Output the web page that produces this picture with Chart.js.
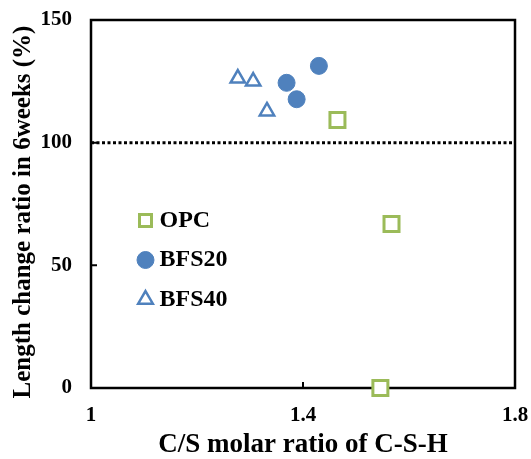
<!DOCTYPE html>
<html>
<head>
<meta charset="utf-8">
<script src="https://cdn.jsdelivr.net/npm/chart.js@4/dist/chart.umd.min.js"></script>
<style>
  html, body { margin: 0; padding: 0; background: #fff; }
  #wrap { width: 531px; height: 459px; }
</style>
</head>
<body>
<div id="wrap"><canvas id="chart"></canvas></div>
<script>
// values
const opcX = [1.465, 1.567, 1.546];
const opcY = [109.2, 66.8, 0];
const bfs20X = [1.369, 1.388, 1.430];
const bfs20Y = [124.4, 117.7, 131.3];
const bfs40X = [1.277, 1.306, 1.332];
const bfs40Y = [126.2, 125.0, 112.8];
const refX = [1, 1.8];
const refY = [100, 100];
const xTicks = [1, 1.4, 1.8];
const yTicks = [0, 50, 100, 150];

const pts = (xs, ys) => xs.map((v, i) => ({ x: v, y: ys[i] }));

const GREEN = '#9BBB59';
const BLUE = '#4F81BD';
const serif = 'Liberation Serif, Times New Roman, serif';

// box round the plot + short inward ticks
const frame = {
  id: 'frame',
  beforeDatasetsDraw(chart) {
    const { ctx, chartArea: a, scales: { x, y } } = chart;
    ctx.save();
    ctx.strokeStyle = '#000';
    ctx.lineWidth = 2.5;
    ctx.strokeRect(a.left, a.top, a.right - a.left, a.bottom - a.top);
    ctx.lineWidth = 2;
    ctx.beginPath();
    y.ticks.forEach(t => {
      const py = y.getPixelForValue(t.value);
      ctx.moveTo(a.left, py);
      ctx.lineTo(a.left + 6, py);
    });
    x.ticks.forEach(t => {
      const px = x.getPixelForValue(t.value);
      ctx.moveTo(px, a.bottom);
      ctx.lineTo(px, a.bottom - 6);
    });
    ctx.stroke();
    ctx.restore();
  }
};

// legend inside the plot, y title nudged down a bit
const placeBoxes = {
  id: 'placeBoxes',
  afterLayout(chart) {
    const lg = chart.legend;
    if (lg) {
      lg.left = 128;
      lg.top = 193;
      lg.right = lg.left + lg.width;
      lg.bottom = lg.top + lg.height;
    }
    const y = chart.scales.y;
    y.top += 8;
    y.bottom += 8;
  }
};

// fixed axis boxes, no extra overflow padding
const fixBox = size => s => {
  if (s.isHorizontal()) s.height = size; else s.width = size;
  s.paddingTop = s.paddingBottom = s.paddingLeft = s.paddingRight = 0;
};

new Chart(document.getElementById('chart'), {
  type: 'scatter',
  data: {
    datasets: [
      {
        label: 'OPC',
        data: pts(opcX, opcY),
        pointStyle: 'rect',
        pointRadius: 10.6,
        pointHoverRadius: 10.6,
        borderColor: GREEN,
        backgroundColor: '#fff',
        borderWidth: 3,
        clip: false
      },
      {
        label: 'BFS20',
        data: pts(bfs20X, bfs20Y),
        pointStyle: 'circle',
        pointRadius: 8.5,
        pointHoverRadius: 8.5,
        borderColor: BLUE,
        backgroundColor: BLUE,
        borderWidth: 1,
        clip: false
      },
      {
        label: 'BFS40',
        data: pts(bfs40X, bfs40Y),
        pointStyle: 'triangle',
        pointRadius: 8.3,
        pointHoverRadius: 8.3,
        borderColor: BLUE,
        backgroundColor: '#fff',
        borderWidth: 2.5,
        clip: false
      },
      {
        type: 'line',
        label: 'ref',
        data: pts(refX, refY),
        borderColor: '#000',
        borderWidth: 3,
        borderDash: [3, 2.5],
        pointRadius: 0,
        fill: false
      }
    ]
  },
  options: {
    responsive: true,
    maintainAspectRatio: false,
    animation: false,
    layout: { padding: { top: 20, right: 16, left: 0, bottom: 0 } },
    plugins: {
      tooltip: { enabled: false },
      legend: {
        position: 'chartArea',
        align: 'start',
        labels: {
          usePointStyle: true,
          boxWidth: 4,
          boxHeight: 12,
          padding: 15.5,
          color: '#000',
          font: { family: serif, size: 24, weight: 'bold' },
          filter: item => item.text !== 'ref'
        }
      }
    },
    scales: {
      x: {
        type: 'linear',
        min: 1,
        max: 1.8,
        afterBuildTicks: s => { s.ticks = xTicks.map(v => ({ value: v })); },
        afterFit: fixBox(71),
        grid: { display: false, drawTicks: false },
        border: { display: false },
        ticks: {
          padding: 15,
          color: '#000',
          font: { family: serif, size: 21, weight: 'bold' },
          callback: v => String(v)
        },
        title: {
          display: true,
          text: 'C/S molar ratio of C-S-H',
          color: '#000',
          padding: 0,
          font: { family: serif, size: 27, weight: 'bold', lineHeight: 1 }
        }
      },
      y: {
        min: 0,
        max: 150,
        afterBuildTicks: s => { s.ticks = yTicks.map(v => ({ value: v })); },
        afterFit: fixBox(91),
        grid: { display: false, drawTicks: false },
        border: { display: false },
        ticks: {
          padding: 19,
          color: '#000',
          font: { family: serif, size: 21, weight: 'bold' },
          callback: v => String(v)
        },
        title: {
          display: true,
          text: 'Length change ratio in 6weeks (%)',
          color: '#000',
          padding: { top: 11, bottom: 0 },
          font: { family: serif, size: 25, weight: 'bold', lineHeight: 1 }
        }
      }
    }
  },
  plugins: [frame, placeBoxes]
});
</script>
</body>
</html>
